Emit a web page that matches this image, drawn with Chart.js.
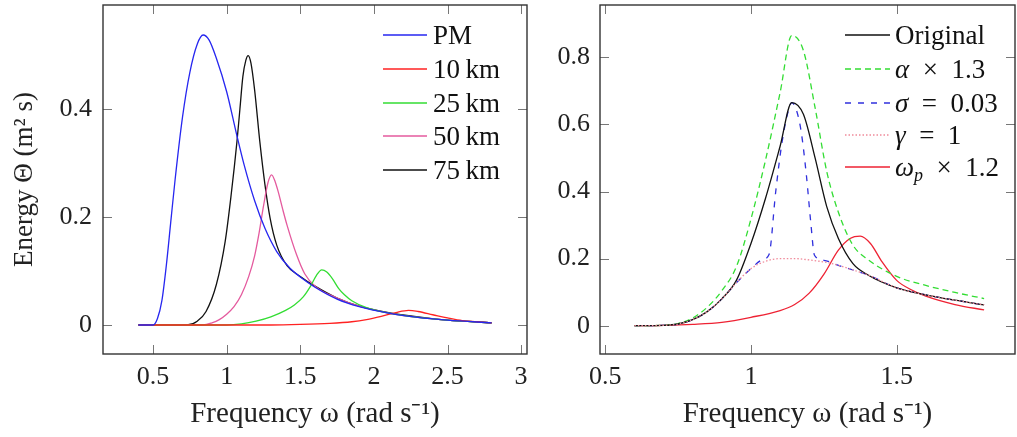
<!DOCTYPE html>
<html>
<head>
<meta charset="utf-8">
<script src="https://cdn.jsdelivr.net/npm/chart.js@4.4.1/dist/chart.umd.min.js"></script>
<style>
  body { margin: 0; background: #fff; width: 1017px; height: 437px; overflow: hidden; position: relative; font-family: "Liberation Serif", serif; }
  .box { position: absolute; top: 0; height: 437px; }
  #boxL { left: 0; width: 530px; }
  #boxR { left: 530px; width: 487px; }
  .leg { position: absolute; top: 0; font-size: 27px; color: #111; }
  .row { position: absolute; left: 0; height: 34px; line-height: 34px; white-space: nowrap; }
  .row svg { position: absolute; left: 0; top: 15px; }
  .row span { position: absolute; left: 50px; top: 0; }
  sub { font-size: 18px; vertical-align: -5px; line-height: 0; }
</style>
</head>
<body>
<div class="box" id="boxL"><canvas id="chartL"></canvas></div>
<div class="box" id="boxR"><canvas id="chartR"></canvas></div>
<div class="leg" id="legL" style="left:383px"></div>
<div class="leg" id="legR" style="left:845px"></div>
<script>
// ---- left plot: spectra for different fetch ----
const pmX = [0.4, 0.5, 0.53, 0.56, 0.59, 0.62, 0.65, 0.7, 0.75, 0.8, 0.84, 0.88, 0.93, 1.0, 1.07, 1.12, 1.19, 1.26, 1.34, 1.43, 1.5, 1.6, 1.75, 1.9, 2.1, 2.3, 2.5, 2.8];
const pmY = [0, 0, 0.012, 0.045, 0.11, 0.19, 0.27, 0.385, 0.468, 0.52, 0.537, 0.528, 0.494, 0.432, 0.35, 0.295, 0.23, 0.179, 0.136, 0.105, 0.089, 0.07, 0.048, 0.034, 0.022, 0.014, 0.009, 0.004];

const km10X = [0.4, 1.3, 1.5, 1.7, 1.85, 1.95, 2.05, 2.15, 2.235, 2.3, 2.4, 2.5, 2.6, 2.7, 2.8];
const km10Y = [0, 0, 0.001, 0.003, 0.006, 0.01, 0.016, 0.023, 0.027, 0.025, 0.019, 0.013, 0.008, 0.006, 0.004];

const km25X = [0.4, 1.0, 1.1, 1.2, 1.3, 1.4, 1.46, 1.52, 1.57, 1.61, 1.646, 1.68, 1.72, 1.76, 1.8, 1.85, 1.95, 2.1, 2.3, 2.5, 2.8];
const km25Y = [0, 0, 0.002, 0.007, 0.015, 0.027, 0.037, 0.052, 0.072, 0.092, 0.102, 0.098, 0.085, 0.068, 0.056, 0.045, 0.032, 0.022, 0.014, 0.009, 0.004];

const km50X = [0.4, 0.84, 0.9, 0.95, 1.0, 1.05, 1.1, 1.15, 1.19, 1.22, 1.25, 1.28, 1.305, 1.33, 1.35, 1.38, 1.41, 1.475, 1.53, 1.6, 1.75, 1.9, 2.1, 2.3, 2.5, 2.8];
const km50Y = [0, 0, 0.004, 0.01, 0.02, 0.034, 0.056, 0.09, 0.128, 0.17, 0.22, 0.263, 0.278, 0.265, 0.247, 0.215, 0.185, 0.13, 0.095, 0.072, 0.05, 0.035, 0.022, 0.014, 0.009, 0.004];

const km75X = [0.4, 0.73, 0.8, 0.86, 0.93, 0.99, 1.03, 1.07, 1.09, 1.11, 1.13, 1.146, 1.165, 1.19, 1.225, 1.26, 1.295, 1.34, 1.41, 1.5, 1.6, 1.75, 1.9, 2.1, 2.3, 2.5, 2.8];
const km75Y = [0, 0, 0.007, 0.025, 0.075, 0.155, 0.24, 0.34, 0.4, 0.46, 0.49, 0.499, 0.485, 0.435, 0.34, 0.26, 0.198, 0.148, 0.11, 0.09, 0.072, 0.05, 0.035, 0.023, 0.015, 0.009, 0.004];

const xTicksL = [0.5, 1, 1.5, 2, 2.5, 3];
const yTicksL = [0, 0.2, 0.4];
const labelsL = ['PM', '10\u2009km', '25\u2009km', '50\u2009km', '75\u2009km'];

// ---- right plot: parameter changes ----
const origX = [0.6, 0.7, 0.75, 0.8, 0.85, 0.9, 0.95, 1.0, 1.05, 1.1, 1.14, 1.18, 1.22, 1.26, 1.3, 1.35, 1.4, 1.5, 1.6, 1.7, 1.8];
const origY = [0, 0.001, 0.005, 0.018, 0.042, 0.08, 0.135, 0.245, 0.38, 0.535, 0.665, 0.63, 0.5, 0.355, 0.26, 0.185, 0.152, 0.113, 0.092, 0.076, 0.062];

const alphaY = [0, 0.001, 0.0065, 0.023, 0.055, 0.104, 0.176, 0.318, 0.494, 0.695, 0.865, 0.82, 0.65, 0.46, 0.338, 0.24, 0.198, 0.147, 0.12, 0.099, 0.081];

const sigmaX = [0.6, 0.7, 0.75, 0.8, 0.85, 0.9, 0.95, 1.0, 1.04, 1.062, 1.085, 1.107, 1.128, 1.14, 1.155, 1.172, 1.19, 1.205, 1.218, 1.25, 1.3, 1.35, 1.4, 1.5, 1.6, 1.7, 1.8];
const sigmaY = [0, 0.001, 0.005, 0.018, 0.042, 0.08, 0.128, 0.17, 0.197, 0.212, 0.4, 0.549, 0.64, 0.665, 0.645, 0.58, 0.45, 0.31, 0.21, 0.195, 0.18, 0.166, 0.152, 0.113, 0.092, 0.076, 0.062];

const gammaX = [0.6, 0.7, 0.75, 0.8, 0.85, 0.9, 0.95, 1.0, 1.05, 1.1, 1.15, 1.2, 1.25, 1.3, 1.35, 1.4, 1.5, 1.6, 1.7, 1.8];
const gammaY = [0, 0.001, 0.005, 0.018, 0.042, 0.08, 0.128, 0.17, 0.192, 0.2, 0.2, 0.196, 0.19, 0.18, 0.166, 0.152, 0.113, 0.092, 0.076, 0.062];

const wpX = [0.6, 0.7, 0.8, 0.9, 1.0, 1.1, 1.15, 1.2, 1.25, 1.3, 1.34, 1.375, 1.41, 1.45, 1.5, 1.55, 1.6, 1.7, 1.8];
const wpY = [0, 0.001, 0.004, 0.01, 0.025, 0.045, 0.063, 0.097, 0.153, 0.225, 0.26, 0.267, 0.245, 0.19, 0.135, 0.107, 0.088, 0.063, 0.047];

const xTicksR = [0.5, 1, 1.5];
const yTicksR = [0, 0.2, 0.4, 0.6, 0.8];
const labelsR = ['Original', '<i>α</i>\u2002×\u20021.3', '<i>σ</i>\u2002=\u20020.03', '<i>γ</i>\u2002=\u20021', '<i>ω<sub>p</sub></i>\u2002×\u20021.2'];

const FONT = '"Liberation Serif", "Times New Roman", serif';

function pts(xs, ys) {
  return xs.map((x, i) => ({ x: x, y: ys[i] }));
}

function line(label, xs, ys, color, dash) {
  return {
    label: label,
    data: pts(xs, ys),
    borderColor: color,
    borderWidth: 1.3,
    borderDash: dash || [],
    pointRadius: 0,
    fill: false,
    cubicInterpolationMode: 'monotone'
  };
}

// frame + inward tick marks like pgfplots
const frame = {
  id: 'frame',
  afterDraw(chart) {
    const { ctx, chartArea: a } = chart;
    const x = chart.scales.x, y = chart.scales.y;
    ctx.save();
    ctx.strokeStyle = '#777';
    ctx.lineWidth = 1;
    ctx.beginPath();
    x.ticks.forEach((t) => {
      const p = Math.round(x.getPixelForValue(t.value)) + 0.5;
      ctx.moveTo(p, a.bottom); ctx.lineTo(p, a.bottom - 9);
      ctx.moveTo(p, a.top); ctx.lineTo(p, a.top + 9);
    });
    y.ticks.forEach((t) => {
      const p = Math.round(y.getPixelForValue(t.value)) + 0.5;
      ctx.moveTo(a.left, p); ctx.lineTo(a.left + 9, p);
      ctx.moveTo(a.right, p); ctx.lineTo(a.right - 9, p);
    });
    ctx.stroke();
    ctx.strokeStyle = '#333';
    ctx.lineWidth = 1.4;
    ctx.strokeRect(a.left, a.top, a.right - a.left, a.bottom - a.top);
    ctx.restore();
  }
};

function options(o) {
  return {
    responsive: true,
    maintainAspectRatio: false,
    animation: false,
    layout: { padding: { top: 5, right: o.padRight, left: 0, bottom: 0 } },
    plugins: { legend: { display: false }, tooltip: { enabled: false } },
    scales: {
      x: {
        type: 'linear',
        min: o.xMin,
        max: o.xMax,
        afterBuildTicks: (s) => { s.ticks = o.xTicks.map((v) => ({ value: v })); },
        afterFit: (s) => { s.height = 83; s.paddingLeft = 0; s.paddingRight = 0; },
        grid: { display: false, drawTicks: false },
        border: { display: false },
        ticks: { font: { family: FONT, size: 26 }, color: '#222', padding: 8, maxRotation: 0, autoSkip: false, callback: (v) => String(v) },
        title: { display: true, text: 'Frequency ω (rad s⁻¹)', font: { family: FONT, size: 29 }, color: '#222', padding: { top: 0, bottom: 5 } }
      },
      y: {
        type: 'linear',
        min: o.yMin,
        max: o.yMax,
        afterBuildTicks: (s) => { s.ticks = o.yTicks.map((v) => ({ value: v })); },
        afterFit: (s) => { s.width = o.yWidth; s.paddingTop = 0; s.paddingBottom = 0; },
        grid: { display: false, drawTicks: false },
        border: { display: false },
        ticks: { font: { family: FONT, size: 26 }, color: '#222', padding: o.yPad, autoSkip: false, callback: (v) => String(v) },
        title: { display: !!o.yTitle, text: o.yTitle || '', font: { family: FONT, size: 27 }, color: '#222', padding: { top: 9, bottom: 0 } }
      }
    }
  };
}

const colorsL = ['#2626f0', '#ff2222', '#33dd33', '#e45a9e', '#111111'];
const dashL = [[], [], [], [], []];

new Chart(document.getElementById('chartL'), {
  type: 'line',
  data: {
    datasets: [
      line(labelsL[0], pmX, pmY, colorsL[0]),
      line(labelsL[1], km10X, km10Y, colorsL[1]),
      line(labelsL[2], km25X, km25Y, colorsL[2]),
      line(labelsL[3], km50X, km50Y, colorsL[3]),
      line(labelsL[4], km75X, km75Y, colorsL[4])
    ]
  },
  options: options({ xMin: 0.16, xMax: 3.04, yMin: -0.0537, yMax: 0.5926, xTicks: xTicksL, yTicks: yTicksL, yWidth: 103, yPad: 11, padRight: 3, yTitle: 'Energy Θ (m² s)' }),
  plugins: [frame]
});

const colorsR = ['#111111', '#33dd33', '#3030dd', '#f08a9a', '#ee2233'];
const dashR = [[], [6, 4], [6, 7], [1.5, 2], []];

new Chart(document.getElementById('chartR'), {
  type: 'line',
  data: {
    datasets: [
      line('gamma = 1', gammaX, gammaY, colorsR[3], dashR[3]),
      line('Original', origX, origY, colorsR[0]),
      line('alpha x 1.3', origX, alphaY, colorsR[1], dashR[1]),
      line('sigma = 0.03', sigmaX, sigmaY, colorsR[2], dashR[2]),
      line('omega_p x 1.2', wpX, wpY, colorsR[4])
    ]
  },
  options: options({ xMin: 0.482, xMax: 1.906, yMin: -0.0844, yMax: 0.956, xTicks: xTicksR, yTicks: yTicksR, yWidth: 70, yPad: 10, padRight: 2 }),
  plugins: [frame]
});

// legends inside the plot boxes
function legend(id, labels, colors, dashes, rows, width) {
  const box = document.getElementById(id);
  labels.forEach((lab, i) => {
    const row = document.createElement('div');
    row.className = 'row';
    row.style.top = (rows[i] - 17) + 'px';
    const d = dashes[i].length ? dashes[i].join(' ') : 'none';
    row.innerHTML = '<svg width="' + width + '" height="4"><line x1="0" y1="2" x2="' + width + '" y2="2" stroke="' + colors[i] +
      '" stroke-width="1.3" stroke-dasharray="' + d + '"/></svg><span>' + lab + '</span>';
    box.appendChild(row);
  });
}
legend('legL', labelsL, colorsL, dashL, [35, 69, 103, 136, 170], 44);
legend('legR', labelsR, colorsR, dashR, [35, 69, 103, 135, 167], 45);
</script>
</body>
</html>
